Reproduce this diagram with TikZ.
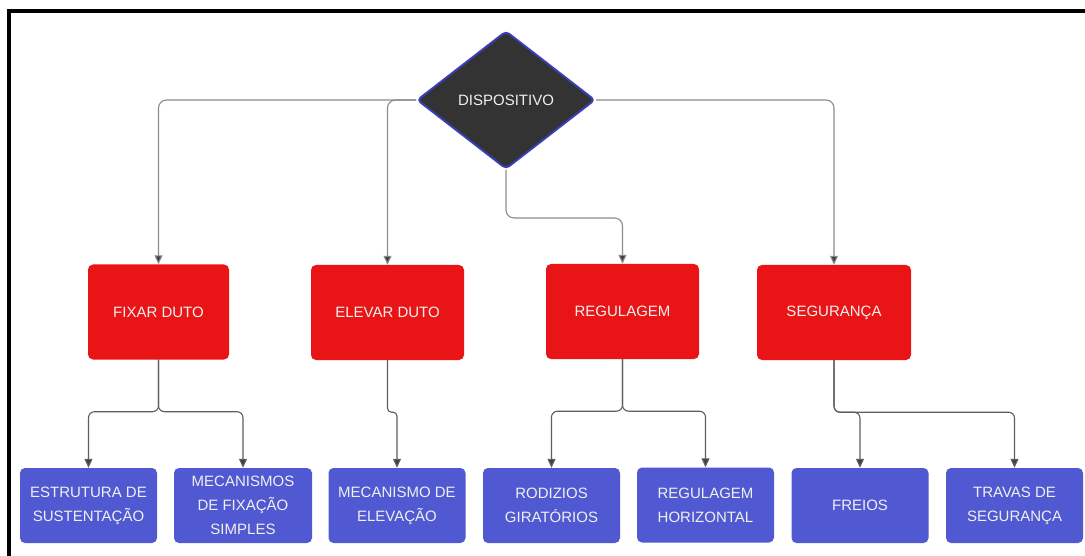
\documentclass[tikz,border=0pt]{standalone}
\usepackage{fontspec}
\setmainfont{Liberation Sans}
\usetikzlibrary{shapes.geometric,arrows.meta}
\definecolor{redbox}{HTML}{E81416}
\definecolor{bluebox}{HTML}{5159D2}
\definecolor{diafill}{HTML}{333333}
\definecolor{diaedge}{HTML}{3A3FB5}
\definecolor{conn}{HTML}{5E5E5E}
\definecolor{connlight}{HTML}{8C8C8C}
\begin{document}
\begin{tikzpicture}[x=1pt,y=-1pt,
  txt/.style={text=white!94!black,font=\fontsize{15}{24}\selectfont,align=center,inner sep=0pt},
  redb/.style={txt,fill=redbox,rounded corners=5pt,minimum height=95pt},
  blueb/.style={txt,fill=bluebox,rounded corners=5pt,minimum width=137pt,minimum height=75pt},
  dia/.style={txt,shape=diamond,fill=diafill,draw=diaedge,line width=2pt,rounded corners=4pt,minimum width=178pt,minimum height=138pt,aspect=1.29},
  link/.style={draw=conn,line width=1.1pt,rounded corners=6pt,-{Triangle[length=9pt,width=8pt,fill=black!75]}},
  toplink/.style={link,draw=connlight,rounded corners=8pt},
]
\useasboundingbox (0,0) rectangle (1085,556);
\fill[white] (0,0) rectangle (1085,556);
\draw[line width=4pt,line join=miter] (9,556) -- (9,11) -- (1085,11);

\node[dia] (d) at (506,100) {DISPOSITIVO};

\node[redb,minimum width=141pt] (fix) at (158.5,312) {FIXAR DUTO};
\node[redb,minimum width=153pt] (ele) at (387.5,312.5) {ELEVAR DUTO};
\node[redb,minimum width=153pt] (reg) at (622.5,311.5) {REGULAGEM};
\node[redb,minimum width=154pt] (seg) at (834,312.5) {SEGURANÇA};

\node[blueb] (est) at (88.5,505.5) {ESTRUTURA DE\\SUSTENTAÇÃO};
\node[blueb,minimum width=138pt] (mfx) at (243,505.5) {MECANISMOS\\DE FIXAÇÃO\\SIMPLES};
\node[blueb] (mel) at (397,505.5) {MECANISMO DE\\ELEVAÇÃO};
\node[blueb] (rod) at (551.5,505.5) {RODIZIOS\\GIRATÓRIOS};
\node[blueb] (rgh) at (705.5,505) {REGULAGEM\\HORIZONTAL};
\node[blueb] (fre) at (860,505.5) {FREIOS};
\node[blueb] (tra) at (1014.5,505.5) {TRAVAS DE\\SEGURANÇA};

\path[toplink] (d.west) -| (fix.north);
\path[toplink] (d.west) -| (ele.north);
\path[toplink] (d.south) -- ++(0,48) -| (reg.north);
\path[toplink] (d.east) -| (seg.north);

\path[link] (fix.south) -- ++(0,52) -| (est.north);
\path[link] (fix.south) -- ++(0,52) -| (mfx.north);
\path[link,rounded corners=4pt] (ele.south) -- ++(0,52) -| (mel.north);
\path[link] (reg.south) -- ++(0,52) -| (rod.north);
\path[link] (reg.south) -- ++(0,52) -| (rgh.north);
\path[link] (seg.south) -- ++(0,52) -| (fre.north);
\path[link] (seg.south) -- ++(0,52) -| (tra.north);
\end{tikzpicture}
\end{document}
